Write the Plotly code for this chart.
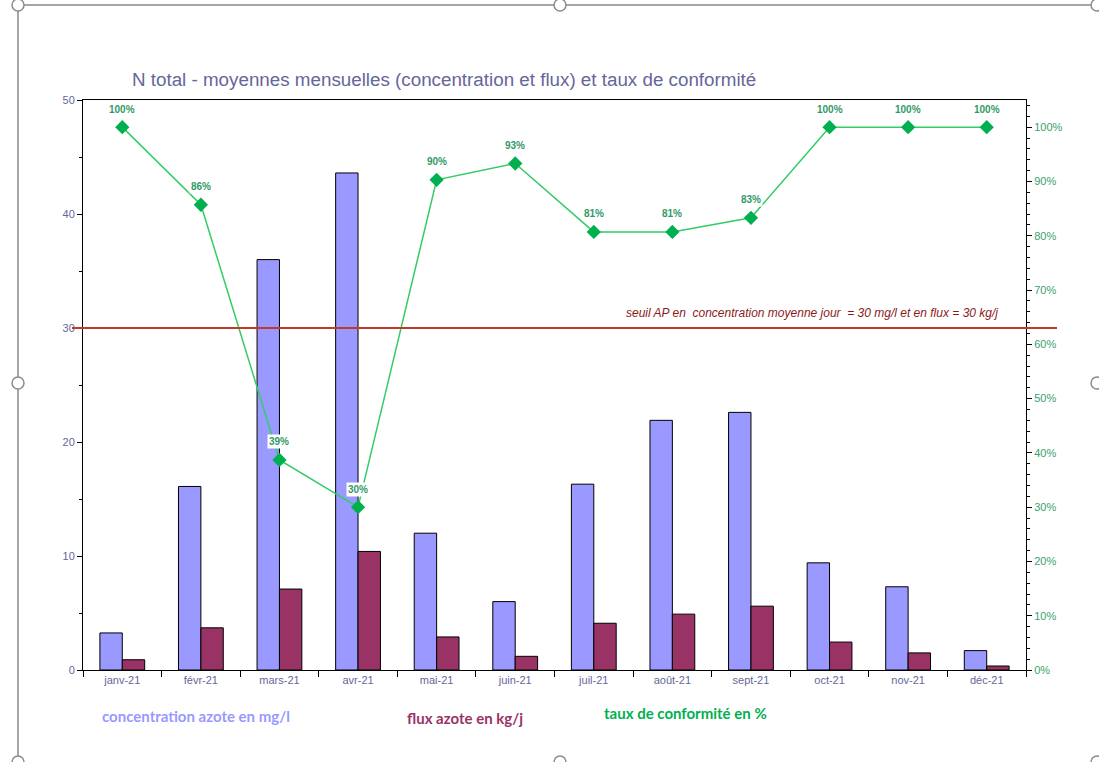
import plotly.graph_objects as go

months = ["janv-21", "févr-21", "mars-21", "avr-21", "mai-21", "juin-21",
          "juil-21", "août-21", "sept-21", "oct-21", "nov-21", "déc-21"]
concentration = [3.25, 16.1, 36.0, 43.6, 12.0, 6.0, 16.3, 21.9, 22.6, 9.4, 7.3, 1.7]
flux = [0.9, 3.7, 7.1, 10.4, 2.9, 1.2, 4.1, 4.9, 5.6, 2.45, 1.5, 0.35]
conformite = [1.00, 0.857, 0.387, 0.30, 0.903, 0.933, 0.807, 0.807, 0.833, 1.00, 1.00, 1.00]
seuil = 30

W, H = 1099, 762
L, R, T, B = 83, 1026, 100, 670


def px(x):
    return (x - L) / (R - L)


def py(y):
    return (B - y) / (B - T)


fig = go.Figure()
fig.add_trace(go.Bar(x=months, y=concentration, name="concentration azote en mg/l",
                     marker=dict(color="#9999ff", line=dict(color="#000000", width=1))))
fig.add_trace(go.Bar(x=months, y=flux, name="flux azote en kg/j",
                     marker=dict(color="#993366", line=dict(color="#000000", width=1))))
fig.add_trace(go.Scatter(x=months, y=conformite, yaxis="y2", mode="lines+markers",
                         name="taux de conformité en %",
                         line=dict(color="#33cc66", width=1.5),
                         marker=dict(symbol="diamond", size=11, color="#00b050")))

annotations = []
for m, v in zip(months, conformite):
    annotations.append(dict(x=m, y=v, xref="x", yref="y2", text="<b>%d%%</b>" % round(v * 100),
                            showarrow=False, yshift=18, bgcolor="white",
                            font=dict(family="Arial", size=10, color="#339966")))

annotations.append(dict(x=px(1000), y=py(313), xref="paper", yref="paper", xanchor="right",
                        yanchor="middle", showarrow=False,
                        text="<i>seuil AP en  concentration moyenne jour  = 30 mg/l et en flux = 30 kg/j</i>",
                        font=dict(family="Arial", size=12, color="#8b1a1a")))

annotations.append(dict(x=px(130), y=py(79), xref="paper", yref="paper", xanchor="left",
                        yanchor="middle", showarrow=False,
                        text="N total - moyennes mensuelles (concentration et flux) et taux de conformité",
                        font=dict(family="Arial", size=18.8, color="#666699")))

legend_items = [("concentration azote en mg/l", 100, 716, "#9999ff"),
                ("flux azote en kg/j", 405, 718, "#993366"),
                ("taux de conformité en %", 602, 713, "#00b050")]
for txt, x0, y0, col in legend_items:
    annotations.append(dict(x=px(x0), y=py(y0), xref="paper", yref="paper", xanchor="left",
                            yanchor="middle", showarrow=False, text="<b>%s</b>" % txt,
                            font=dict(family="Lato", size=15, color=col)))

shapes = [
    dict(type="line", xref="paper", yref="y", x0=px(72), x1=px(1057), y0=seuil, y1=seuil,
         line=dict(color="#c0392b", width=2)),
    # chart frame (selection outline)
    dict(type="line", xref="paper", yref="paper", x0=px(18), x1=px(1110), y0=py(5), y1=py(5),
         line=dict(color="#a6a6a6", width=2)),
    dict(type="line", xref="paper", yref="paper", x0=px(18), x1=px(18), y0=py(5), y1=py(770),
         line=dict(color="#a6a6a6", width=2)),
]
for hx, hy in [(18, 5), (560, 5), (1097, 5), (18, 383), (1097, 383), (18, 762), (560, 762), (1097, 762)]:
    shapes.append(dict(type="circle", xref="paper", yref="paper",
                       x0=px(hx - 6), x1=px(hx + 6), y0=py(hy + 6), y1=py(hy - 6),
                       fillcolor="white", line=dict(color="#8c8c8c", width=1.5)))

fig.update_layout(
    width=W, height=H,
    margin=dict(l=L, r=W - R, t=T, b=H - B),
    paper_bgcolor="white", plot_bgcolor="white",
    barmode="group", bargap=0.43, bargroupgap=0,
    showlegend=False,
    font=dict(family="Arial", size=11, color="#666699"),
    xaxis=dict(range=[-0.5, len(months) - 0.5], showline=True, linecolor="#000000", linewidth=1,
               mirror=True, ticks="outside", tickson="boundaries", ticklen=6, tickcolor="#000000",
               tickfont=dict(family="Arial", size=11, color="#666699"), showgrid=False),
    yaxis=dict(range=[0, 50], dtick=10, showline=True, linecolor="#000000", linewidth=1,
               ticks="outside", ticklen=5, tickcolor="#000000", showgrid=False, zeroline=False,
               tickfont=dict(family="Arial", size=11, color="#666699"),
               minor=dict(dtick=5, ticks="outside", ticklen=3, tickcolor="#000000")),
    yaxis2=dict(range=[0, 1.05], dtick=0.1, tickformat=".0%", overlaying="y", side="right",
                showline=True, linecolor="#000000", linewidth=1, ticks="outside", ticklen=5,
                tickcolor="#000000", showgrid=False, zeroline=False,
                tickfont=dict(family="Arial", size=11, color="#3a9f6a"),
                minor=dict(dtick=0.02, ticks="outside", ticklen=3, tickcolor="#000000")),
    annotations=annotations,
    shapes=shapes,
)

fig.write_html("out.html", config={"displayModeBar": False},
               post_script="document.body.style.margin='0px';document.body.style.overflow='hidden';")
